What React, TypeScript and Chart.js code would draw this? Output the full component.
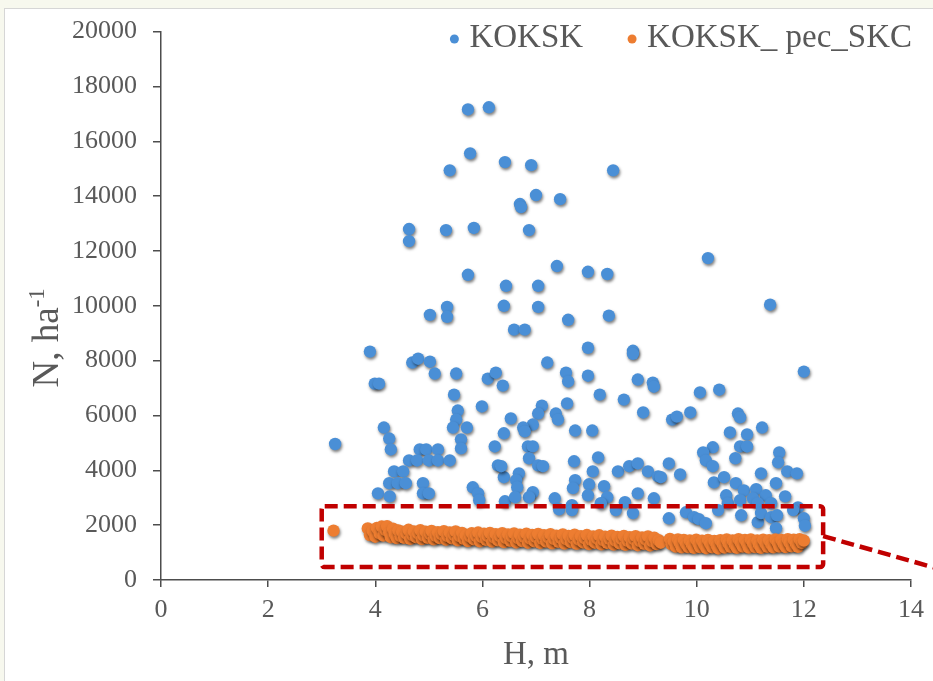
import React, { useEffect, useRef } from 'react';
import { Chart, registerables } from 'chart.js';

Chart.register(...registerables);

// ---------- data ----------
const SERIES_LABELS = ['KOKSK', 'KOKSK_ pec_SKC'];
const SERIES_COLORS = ['#4a8fd6', '#ed7d31'];

const X_MIN = 0;
const X_MAX = 14;
const X_STEP = 2;
const Y_MIN = 0;
const Y_MAX = 20000;
const Y_STEP = 2000;

const X_TITLE = 'H, m';
const Y_TITLE_MAIN = 'N, ha';
const Y_TITLE_SUP = '-1';

// KOKSK (blue) – height H (m)
const koksH = [
  5.73, 6.12, 5.77, 5.39, 6.42, 6.91, 8.44, 7.00, 6.70, 6.72, 7.45, 5.32, 5.84, 6.87, 4.63, 4.63,
  10.21, 5.73, 7.39, 7.97, 8.33, 6.44, 7.04, 11.37, 6.40, 7.04, 5.34, 5.34, 5.02, 6.59, 6.79, 7.60,
  8.36, 3.90, 7.97, 8.81, 8.81, 7.21, 4.69, 4.80, 5.02, 5.11, 5.51, 6.10, 6.25, 6.38, 3.99, 4.07,
  7.56, 7.60, 7.97, 8.90, 9.18, 9.20, 8.19, 8.64, 10.06, 10.42, 12.00, 5.47, 5.99, 5.54, 5.51, 5.45,
  5.71, 5.60, 5.60, 4.16, 4.26, 4.29, 6.53, 6.40, 6.23, 4.83, 4.95, 5.17, 4.63, 4.78, 5.00, 5.17,
  5.39, 4.35, 4.52, 4.26, 4.42, 4.57, 4.89, 4.89, 5.00, 4.05, 4.27, 5.82, 5.92, 5.94, 6.29, 6.40,
  6.42, 7.11, 7.04, 7.37, 7.41, 6.94, 6.76, 6.79, 7.58, 9.00, 7.73, 8.05, 6.85, 6.94, 7.71, 8.16,
  6.87, 7.04, 7.13, 6.35, 6.68, 6.63, 6.65, 8.06, 7.73, 7.69, 7.99, 7.97, 8.27, 8.33, 8.53, 8.74,
  8.90, 9.09, 9.28, 9.48, 6.94, 6.87, 8.90, 9.20, 7.35, 7.43, 7.67, 7.67, 8.21, 8.49, 8.66, 8.81,
  9.48, 9.54, 9.63, 9.88, 10.77, 10.81, 11.22, 10.62, 10.94, 10.81, 10.94, 10.30, 10.12, 10.72, 10.17, 10.30,
  11.54, 11.52, 9.69, 11.69, 11.87, 11.20, 10.32, 10.51, 10.73, 10.88, 11.11, 11.48, 11.29, 11.65, 10.55, 9.33,
  10.58, 10.81, 11.05, 11.14, 11.39, 11.89, 9.80, 9.95, 10.04, 10.17, 10.40, 10.83, 11.14, 11.20, 11.39, 11.50,
  11.48, 11.80, 12.00, 12.02, 3.25, 6.61,
];
// KOKSK (blue) – density N (ha^-1)
const koksN = [
  17160, 17240, 15560, 14940, 15240, 15130, 14940, 14040, 13710, 13600, 13890, 12760, 12840, 12760, 12800, 12360,
  11740, 11130, 11450, 11240, 11160, 10730, 10730, 10040, 10000, 9960, 9960, 9600, 9670, 9130, 9130, 9490,
  9640, 8330, 8470, 8360, 8250, 7930, 7930, 8070, 7960, 7530, 7530, 7340, 7560, 7090, 7160, 7160,
  7560, 7240, 7450, 7310, 7200, 7050, 6760, 6580, 6840, 6940, 7600, 6760, 6330, 6180, 5850, 5560,
  5560, 5130, 4800, 5560, 5160, 4760, 5890, 5350, 4870, 4760, 4760, 4760, 4360, 4360, 4360, 4360,
  4360, 3960, 3960, 3530, 3530, 3530, 3530, 3160, 3160, 3160, 3050, 3380, 3160, 2910, 4180, 3750,
  2870, 6360, 6070, 6070, 5850, 5670, 5560, 5420, 6440, 6110, 5450, 5450, 4870, 4870, 4330, 4470,
  4440, 4180, 4150, 4150, 3890, 3640, 3380, 3960, 3640, 3350, 3490, 3090, 3420, 3020, 3960, 4150,
  4250, 3960, 3780, 4250, 3200, 3020, 3160, 2980, 2980, 2580, 2730, 2550, 2800, 2550, 2840, 2440,
  2250, 5850, 5960, 6110, 6070, 5930, 5560, 5380, 5310, 4870, 4870, 4840, 4650, 4440, 4360, 4150,
  4650, 4290, 3850, 3960, 3890, 3890, 3560, 3750, 3530, 3270, 3310, 3530, 3090, 3050, 3090, 3750,
  2800, 2910, 2980, 2800, 2800, 2650, 2470, 2290, 2220, 2070, 2550, 2360, 2110, 2440, 2290, 2360,
  1890, 2550, 2250, 1980, 4960, 3020,
];

// KOKSK_ pec_SKC (orange) – height H (m)
const pecH = [
  3.22, 3.86, 3.90, 3.95, 4.00, 4.03, 4.08, 4.12, 4.15, 4.19, 4.22, 4.26, 4.29, 4.33, 4.36, 4.40,
  4.43, 4.47, 4.50, 4.54, 4.58, 4.62, 4.65, 4.69, 4.72, 4.76, 4.80, 4.84, 4.87, 4.90, 4.94, 4.98,
  5.02, 5.05, 5.09, 5.13, 5.17, 5.20, 5.24, 5.28, 5.32, 5.35, 5.39, 5.43, 5.47, 5.50, 5.54, 5.58,
  5.62, 5.65, 5.69, 5.73, 5.77, 5.80, 5.84, 5.88, 5.92, 5.95, 5.99, 6.03, 6.07, 6.10, 6.14, 6.18,
  6.22, 6.25, 6.29, 6.33, 6.37, 6.40, 6.44, 6.48, 6.52, 6.55, 6.59, 6.63, 6.67, 6.70, 6.74, 6.78,
  6.82, 6.85, 6.89, 6.93, 6.97, 7.00, 7.04, 7.08, 7.12, 7.15, 7.19, 7.23, 7.27, 7.30, 7.34, 7.38,
  7.42, 7.46, 7.50, 7.53, 7.57, 7.61, 7.65, 7.69, 7.72, 7.76, 7.80, 7.84, 7.88, 7.91, 7.95, 7.99,
  8.03, 8.07, 8.10, 8.14, 8.18, 8.22, 8.26, 8.29, 8.33, 8.37, 8.41, 8.45, 8.48, 8.52, 8.56, 8.60,
  8.64, 8.67, 8.71, 8.75, 8.79, 8.83, 8.86, 8.90, 8.94, 8.98, 9.02, 9.05, 9.09, 9.13, 9.17, 9.21,
  9.25, 9.29, 9.33, 9.50, 9.53, 9.57, 9.61, 9.65, 9.68, 9.72, 9.76, 9.80, 9.84, 9.87, 9.91, 9.95,
  9.99, 10.03, 10.06, 10.10, 10.14, 10.18, 10.21, 10.25, 10.29, 10.33, 10.37, 10.40, 10.44, 10.48, 10.52, 10.56,
  10.59, 10.63, 10.67, 10.71, 10.75, 10.78, 10.82, 10.86, 10.90, 10.94, 10.97, 11.01, 11.05, 11.09, 11.13, 11.16,
  11.20, 11.24, 11.28, 11.32, 11.35, 11.39, 11.43, 11.47, 11.51, 11.54, 11.58, 11.62, 11.66, 11.70, 11.73, 11.77,
  11.81, 11.85, 11.89, 11.92, 11.96, 12.00,
];
// KOKSK_ pec_SKC (orange) – density N (ha^-1)
const pecN = [
  1800, 1880, 1640, 1790, 1580, 1900, 1700, 1950, 1620, 1820, 1960, 1720, 1560, 1870, 1680, 1530,
  1810, 1600, 1760, 1540, 1690, 1830, 1500, 1640, 1770, 1560, 1690, 1820, 1490, 1620, 1760, 1540,
  1680, 1790, 1480, 1610, 1740, 1530, 1660, 1780, 1470, 1600, 1730, 1520, 1650, 1770, 1450, 1590,
  1720, 1500, 1630, 1420, 1580, 1710, 1480, 1610, 1730, 1410, 1560, 1690, 1460, 1600, 1720, 1400,
  1550, 1670, 1450, 1590, 1710, 1380, 1530, 1660, 1430, 1580, 1700, 1370, 1520, 1650, 1420, 1570,
  1690, 1360, 1510, 1640, 1410, 1560, 1680, 1350, 1500, 1630, 1400, 1550, 1670, 1340, 1490, 1620,
  1390, 1540, 1660, 1330, 1480, 1610, 1380, 1530, 1650, 1320, 1470, 1600, 1370, 1520, 1640, 1310,
  1460, 1590, 1360, 1510, 1630, 1300, 1450, 1580, 1350, 1500, 1620, 1290, 1440, 1570, 1340, 1490,
  1610, 1280, 1430, 1560, 1330, 1480, 1600, 1270, 1420, 1550, 1320, 1470, 1590, 1260, 1410, 1540,
  1310, 1450, 1360, 1500, 1300, 1410, 1220, 1480, 1350, 1190, 1460, 1310, 1200, 1440, 1290, 1170,
  1470, 1330, 1200, 1430, 1280, 1160, 1460, 1320, 1190, 1420, 1270, 1150, 1450, 1310, 1180, 1480,
  1340, 1210, 1440, 1290, 1170, 1490, 1350, 1220, 1460, 1310, 1180, 1480, 1340, 1200, 1440, 1290,
  1170, 1470, 1330, 1210, 1450, 1300, 1190, 1480, 1350, 1220, 1460, 1310, 1200, 1490, 1360, 1230,
  1470, 1320, 1210, 1490, 1350, 1440,
];

// highlight box (data units) and leader line
const BOX_X = [3.0, 12.36];
const BOX_Y = [470, 2690];
const LEADER_X = [12.36, 14.8];
const LEADER_Y = [1600, 250];

// ---------- styling ----------
const FONT = "'Liberation Serif', 'Times New Roman', serif";
const TEXT_COLOR = '#595959';
const AXIS_COLOR = '#4d4d4d';
const BOX_COLOR = '#c00000';

const shadowPlugin = {
  id: 'pointShadow',
  beforeDatasetDraw(chart: any) {
    const ctx = chart.ctx;
    ctx.save();
    ctx.shadowColor = 'rgba(0,0,0,0.5)';
    ctx.shadowBlur = 3;
    ctx.shadowOffsetX = 1;
    ctx.shadowOffsetY = 2;
  },
  afterDatasetDraw(chart: any) {
    chart.ctx.restore();
  },
};

const overlayPlugin = {
  id: 'overlay',
  afterDatasetsDraw(chart: any) {
    const { ctx, scales } = chart;
    const xs = scales.x;
    const ys = scales.y;
    ctx.save();
    ctx.strokeStyle = BOX_COLOR;
    ctx.lineWidth = 4.5;
    ctx.setLineDash([13, 6]);
    const x0 = xs.getPixelForValue(BOX_X[0]);
    const x1 = xs.getPixelForValue(BOX_X[1]);
    const y0 = ys.getPixelForValue(BOX_Y[1]);
    const y1 = ys.getPixelForValue(BOX_Y[0]);
    ctx.beginPath();
    if (ctx.roundRect) ctx.roundRect(x0, y0, x1 - x0, y1 - y0, 3);
    else ctx.rect(x0, y0, x1 - x0, y1 - y0);
    ctx.stroke();
    ctx.beginPath();
    ctx.moveTo(xs.getPixelForValue(LEADER_X[0]), ys.getPixelForValue(LEADER_Y[0]));
    ctx.lineTo(xs.getPixelForValue(LEADER_X[1]), ys.getPixelForValue(LEADER_Y[1]));
    ctx.stroke();
    ctx.restore();
  },
  afterDraw(chart: any) {
    const { ctx, chartArea } = chart;
    ctx.save();
    // legend
    const legendFont = 33;
    ctx.font = `${legendFont}px ${FONT}`;
    ctx.textBaseline = 'middle';
    ctx.textAlign = 'left';
    const ly = 38;
    let right = chartArea.right + 1;
    const items = chart.data.datasets.map((d: any) => ({ label: d.label, color: d.backgroundColor }));
    const positions: any[] = [];
    for (let i = items.length - 1; i >= 0; i--) {
      const w = ctx.measureText(items[i].label).width;
      const tx = right - w;
      const dx = tx - 15;
      positions[i] = { tx, dx };
      right = dx - 49;
    }
    items.forEach((it: any, i: number) => {
      ctx.fillStyle = it.color;
      ctx.beginPath();
      ctx.arc(positions[i].dx, ly + 1, 4.5, 0, Math.PI * 2);
      ctx.fill();
      ctx.fillStyle = TEXT_COLOR;
      ctx.fillText(it.label, positions[i].tx, ly);
    });
    // y title with superscript
    const fs = 37;
    const supFs = 23;
    ctx.font = `${fs}px ${FONT}`;
    const wMain = ctx.measureText(Y_TITLE_MAIN).width;
    ctx.font = `${supFs}px ${FONT}`;
    const wSup = ctx.measureText(Y_TITLE_SUP).width;
    const total = wMain + wSup;
    ctx.translate(46, (chartArea.top + chartArea.bottom) / 2 + 32);
    ctx.rotate(-Math.PI / 2);
    ctx.textBaseline = 'alphabetic';
    ctx.fillStyle = TEXT_COLOR;
    ctx.font = `${fs}px ${FONT}`;
    ctx.fillText(Y_TITLE_MAIN, -total / 2, fs * 0.33);
    ctx.font = `${supFs}px ${FONT}`;
    ctx.fillText(Y_TITLE_SUP, -total / 2 + wMain, fs * 0.33 - fs * 0.38);
    ctx.restore();
  },
};

export default function App() {
  const canvasRef = useRef<HTMLCanvasElement | null>(null);

  useEffect(() => {
    const canvas = canvasRef.current;
    if (!canvas) return;
    const toPts = (xs: number[], ys: number[]) => xs.map((x, i) => ({ x, y: ys[i] }));
    const chart = new Chart(canvas, {
      type: 'scatter',
      data: {
        datasets: [
          {
            label: SERIES_LABELS[0],
            data: toPts(koksH, koksN),
            backgroundColor: SERIES_COLORS[0],
            borderWidth: 0,
            pointRadius: 6.2,
            pointHoverRadius: 6.2,
            order: 1,
          },
          {
            label: SERIES_LABELS[1],
            data: toPts(pecH, pecN),
            backgroundColor: SERIES_COLORS[1],
            borderWidth: 0,
            pointRadius: 6.2,
            pointHoverRadius: 6.2,
            order: 0,
          },
        ],
      },
      options: {
        responsive: false,
        animation: false,
        devicePixelRatio: 1,
        layout: { padding: { left: 0, top: 30, right: 22, bottom: 0 } },
        plugins: { legend: { display: false }, tooltip: { enabled: false }, title: { display: false } },
        scales: {
          x: {
            type: 'linear',
            min: X_MIN,
            max: X_MAX,
            afterFit: (s: any) => { s.height = 101; },
            ticks: {
              stepSize: X_STEP,
              color: TEXT_COLOR,
              font: { family: FONT, size: 26 },
              padding: 8,
              callback: (v: any) => String(v),
            },
            grid: { drawOnChartArea: false, drawTicks: true, tickLength: 7, color: AXIS_COLOR, lineWidth: 1.5 },
            border: { display: true, color: AXIS_COLOR, width: 1.5 },
            title: {
              display: true,
              text: X_TITLE,
              color: TEXT_COLOR,
              font: { family: FONT, size: 33 },
              padding: { top: 0, bottom: 6 },
            },
          },
          y: {
            type: 'linear',
            min: Y_MIN,
            max: Y_MAX,
            afterFit: (s: any) => { s.width = 161; },
            ticks: {
              stepSize: Y_STEP,
              color: TEXT_COLOR,
              font: { family: FONT, size: 26 },
              padding: 16,
              callback: (v: any) => String(v),
            },
            grid: { drawOnChartArea: false, drawTicks: true, tickLength: 8, color: AXIS_COLOR, lineWidth: 1.5 },
            border: { display: true, color: AXIS_COLOR, width: 1.5 },
          },
        },
      },
      plugins: [shadowPlugin, overlayPlugin],
    } as any);
    return () => chart.destroy();
  }, []);

  return (
    <div style={{ position: 'fixed', left: 0, top: 0, width: 933, height: 681, background: '#f7f8ee', overflow: 'hidden' }}>
      <div
        style={{
          position: 'absolute',
          left: 4,
          top: 8,
          right: -2,
          bottom: -2,
          background: '#ffffff',
          borderLeft: '1px solid #d6d6d6',
          borderTop: '1px solid #d6d6d6',
        }}
      />
      <canvas
        ref={canvasRef}
        width={933}
        height={681}
        style={{ position: 'absolute', left: 0, top: 0, width: 933, height: 681 }}
      />
    </div>
  );
}
